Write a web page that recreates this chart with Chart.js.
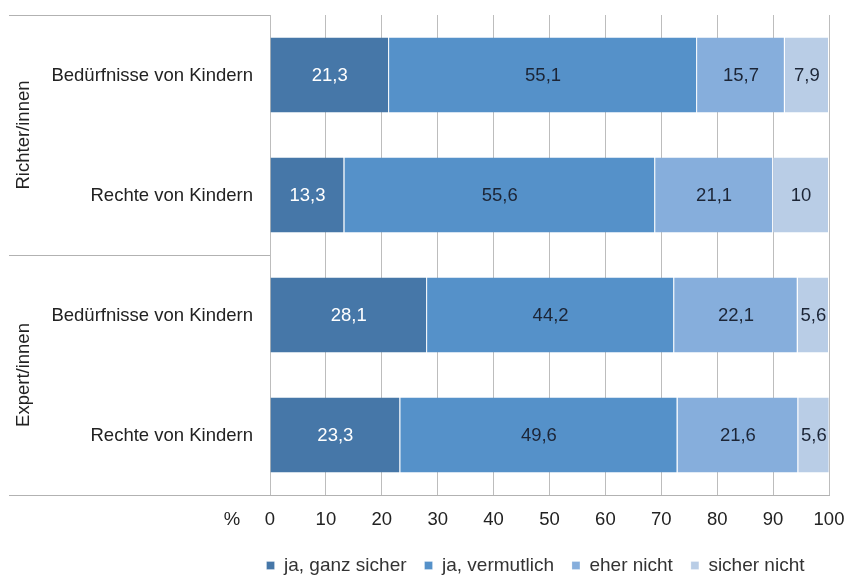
<!DOCTYPE html>
<html>
<head>
<meta charset="utf-8">
<script src="https://cdn.jsdelivr.net/npm/chart.js@4/dist/chart.umd.min.js"></script>
<style>
  html, body { margin: 0; padding: 0; background: #fff; }
  #wrap { width: 846px; height: 575px; position: relative; }
</style>
</head>
<body>
<div id="wrap"><canvas id="chart"></canvas></div>
<script>
// data
const groups = ['Richter/innen', 'Expert/innen'];
const categories = ['Bedürfnisse von Kindern', 'Rechte von Kindern', 'Bedürfnisse von Kindern', 'Rechte von Kindern'];
const seriesNames = ['ja, ganz sicher', 'ja, vermutlich', 'eher nicht', 'sicher nicht'];
const jaGanzSicher = [21.3, 13.3, 28.1, 23.3];
const jaVermutlich = [55.1, 55.6, 44.2, 49.6];
const eherNicht = [15.7, 21.1, 22.1, 21.6];
const sicherNicht = [7.9, 10, 5.6, 5.6];
const xTicks = [0, 10, 20, 30, 40, 50, 60, 70, 80, 90, 100];

const colors = ['#4677a8', '#5591c9', '#86aedc', '#b9cde6'];
const labelColors = ['#ffffff', '#1c2536', '#1c2536', '#1c2536'];
const FONT = '"Liberation Sans", Arial, sans-serif';
const lineColor = '#b2b2b2';
const gridColor = '#bdbdbd';

Chart.defaults.font.family = FONT;
Chart.defaults.font.size = 18.5;
Chart.defaults.color = '#222';

const fmt = v => String(v).replace('.', ',');

// value labels, category/group labels, separator lines and the "%" label
const extras = {
  id: 'extras',
  afterDatasetsDraw(chart) {
    const ctx = chart.ctx;
    ctx.save();
    ctx.font = '18.5px ' + FONT;
    ctx.textAlign = 'center';
    ctx.textBaseline = 'middle';
    chart.data.datasets.forEach((ds, i) => {
      const meta = chart.getDatasetMeta(i);
      meta.data.forEach((bar, j) => {
        const cx = (bar.x + bar.base) / 2;
        ctx.fillStyle = labelColors[i];
        ctx.fillText(fmt(ds.data[j]), cx, bar.y + 1);
      });
    });
    ctx.restore();
  },
  afterDraw(chart) {
    const ctx = chart.ctx;
    const y = chart.scales.y;
    const x = chart.scales.x;
    const area = chart.chartArea;
    const band = y.getPixelForValue(1) - y.getPixelForValue(0);
    ctx.save();
    ctx.strokeStyle = lineColor;
    ctx.lineWidth = 1;
    // separators in the label area
    const per = categories.length / groups.length;
    for (let g = 0; g <= groups.length; g++) {
      const py = Math.round(y.getPixelForValue(g * per) - band / 2) + 0.5;
      ctx.beginPath();
      ctx.moveTo(9, py);
      ctx.lineTo(area.left, py);
      ctx.stroke();
    }
    ctx.fillStyle = '#222';
    ctx.font = '18.5px ' + FONT;
    ctx.textBaseline = 'middle';
    // category labels
    ctx.textAlign = 'right';
    categories.forEach((c, i) => {
      ctx.fillText(c, area.left - 17, y.getPixelForValue(i) + 1);
    });
    // group labels rotated
    ctx.textAlign = 'center';
    groups.forEach((name, g) => {
      const top = y.getPixelForValue(g * per) - band / 2;
      const bot = y.getPixelForValue((g + 1) * per - 1) + band / 2;
      ctx.save();
      ctx.translate(24, (top + bot) / 2);
      ctx.rotate(-Math.PI / 2);
      ctx.fillText(name, 0, 0);
      ctx.restore();
    });
    // "%" next to the x tick labels
    ctx.fillText('%', 232, x.top + 25);
    ctx.restore();
  }
};

const ctx = document.getElementById('chart').getContext('2d');
new Chart(ctx, {
  type: 'bar',
  data: {
    labels: categories,
    datasets: [jaGanzSicher, jaVermutlich, eherNicht, sicherNicht].map((d, i) => ({
      label: seriesNames[i],
      data: d,
      backgroundColor: colors[i],
      borderColor: '#ffffff',
      borderWidth: { left: 0, right: 1, top: 0, bottom: 0 },
      borderSkipped: false,
      barPercentage: 0.625,
      categoryPercentage: 1
    }))
  },
  options: {
    indexAxis: 'y',
    responsive: true,
    maintainAspectRatio: false,
    animation: false,
    layout: { padding: { left: 242, right: 17, top: 15, bottom: -10 } },
    plugins: {
      tooltip: { enabled: false },
      legend: {
        position: 'bottom',
        labels: {
          boxWidth: 8,
          boxHeight: 8,
          padding: 18,
          color: '#333',
          font: { size: 19 }
        }
      }
    },
    scales: {
      x: {
        stacked: true,
        min: 0,
        max: 100,
        afterBuildTicks: s => { s.ticks = xTicks.map(v => ({ value: v })); },
        grid: { color: gridColor, drawTicks: false },
        border: { color: lineColor },
        ticks: { padding: 14, color: '#222' },
        afterFit: s => { s.height = 43; s.paddingLeft = 0; s.paddingRight = 0; }
      },
      y: {
        stacked: true,
        grid: { display: false, drawTicks: false },
        border: { display: false },
        ticks: { display: false },
        afterFit: s => { s.width = 28; s.paddingTop = 0; s.paddingBottom = 0; }
      }
    }
  },
  plugins: [extras]
});
</script>
</body>
</html>
